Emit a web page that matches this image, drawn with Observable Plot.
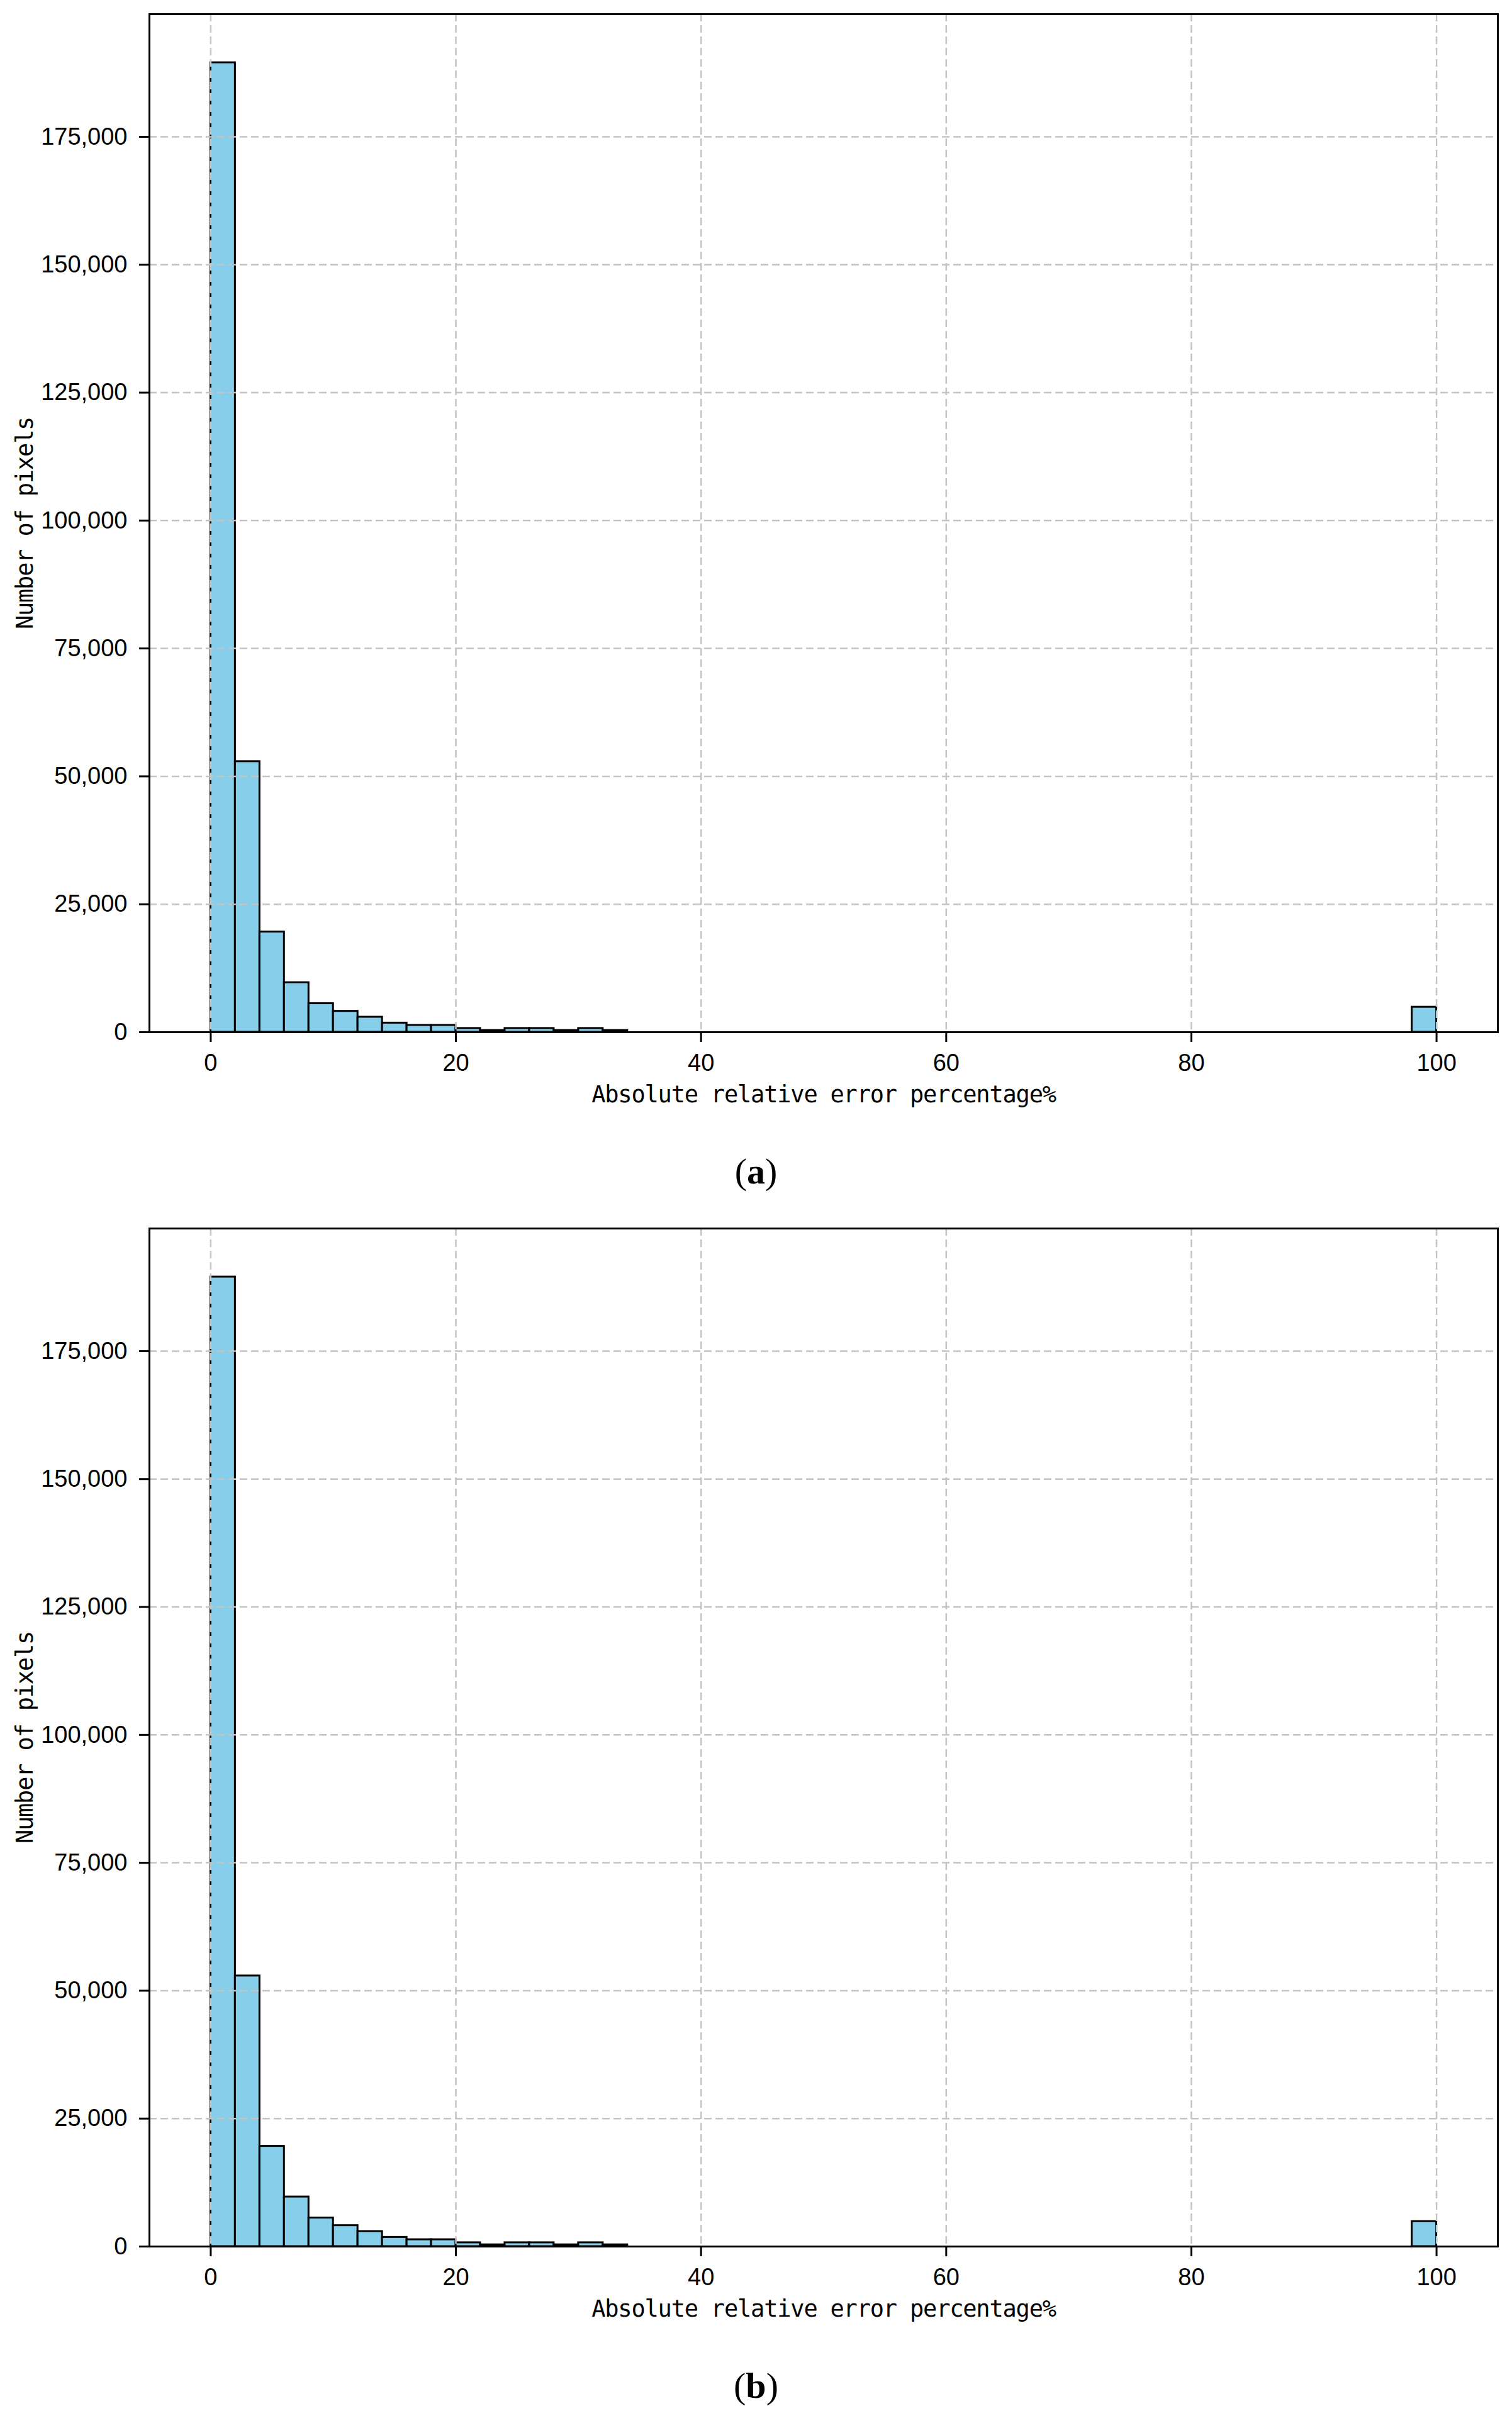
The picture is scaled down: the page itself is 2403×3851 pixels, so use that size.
<!DOCTYPE html>
<html>
<head>
<meta charset="utf-8">
<script src="https://cdn.jsdelivr.net/npm/d3@7"></script>
<script src="https://cdn.jsdelivr.net/npm/@observablehq/plot@0.6"></script>
<style>
html, body { margin: 0; padding: 0; background: #fff; }
#page { position: relative; width: 2403px; height: 3851px; background: #fff; overflow: hidden; }
.panel { position: absolute; left: 0; }
.cap { position: absolute; left: 0; width: 2403px; text-align: center;
       font-family: "Liberation Serif", "Times New Roman", serif; font-size: 58px; line-height: 58px; color: #000; }
.cap b { font-weight: bold; }
</style>
</head>
<body>
<div id="page"></div>
<script>
// ---- data ----
const binWidth = 2;
const binStart = [0,2,4,6,8,10,12,14,16,18,20,22,24,26,28,30,32,34,36,38,40,42,44,46,48,
                  50,52,54,56,58,60,62,64,66,68,70,72,74,76,78,80,82,84,86,88,90,92,94,96,98];
const countsA = [189500, 52900, 19600, 9700, 5600, 4100, 2950, 1800, 1350, 1350,
                 750, 350, 750, 750, 350, 750, 350, 0, 0, 0,
                 0, 0, 0, 0, 0, 0, 0, 0, 0, 0,
                 0, 0, 0, 0, 0, 0, 0, 0, 0, 0,
                 0, 0, 0, 0, 0, 0, 0, 0, 0, 4900];
const countsB = [189500, 52900, 19600, 9700, 5600, 4100, 2950, 1800, 1350, 1350,
                 750, 350, 750, 750, 350, 750, 350, 0, 0, 0,
                 0, 0, 0, 0, 0, 0, 0, 0, 0, 0,
                 0, 0, 0, 0, 0, 0, 0, 0, 0, 0,
                 0, 0, 0, 0, 0, 0, 0, 0, 0, 4900];
const xTicks = [0, 20, 40, 60, 80, 100];
const yTicks = [0, 25000, 50000, 75000, 100000, 125000, 150000, 175000];
const xLabel = "Absolute relative error percentage%";
const yLabel = "Number of pixels";
const panelLetters = ["a", "b"];

// ---- drawing ----
const PANEL_H = 1790, PANEL_STEP = 1930;
const tickFont = "'Liberation Sans', Arial, sans-serif";
const monoFont = "'DejaVu Sans Mono', 'Liberation Mono', monospace";
const gridStyle = {stroke: "#c4c4c4", strokeOpacity: 1, strokeWidth: 2.5, strokeDasharray: "12,6"};

function makePanel(counts) {
  const data = binStart.map((x0, i) => ({x0, x1: x0 + binWidth, count: counts[i]}))
                       .filter(d => d.count > 0);
  const ymax = d3.max(counts) * 1.05;
  const plot = Plot.plot({
    width: 2403,
    height: PANEL_H,
    marginTop: 22, marginBottom: 150, marginLeft: 237, marginRight: 23,
    x: {domain: [-5, 105]},
    y: {domain: [0, ymax]},
    style: {background: "transparent", overflow: "visible"},
    marks: [
      Plot.rectY(data, {x1: "x0", x2: "x1", y: "count", fill: "#87CEEB", stroke: "#000", strokeWidth: 3, inset: 0}),
      Plot.gridX(xTicks, gridStyle),
      Plot.gridY(yTicks, gridStyle),
      Plot.axisX(xTicks, {tickSize: 16, tickPadding: 19, strokeWidth: 3, fontSize: 38, fontFamily: tickFont, label: null}),
      Plot.axisY(yTicks, {tickSize: 16, tickPadding: 19, strokeWidth: 3, fontSize: 38, fontFamily: tickFont,
                          tickFormat: d3.format(","), label: null}),
      Plot.frame({stroke: "#000", strokeWidth: 3}),
      Plot.text([xLabel], {text: d => d, frameAnchor: "bottom", textAnchor: "middle", dy: 111, fontSize: 37, fontFamily: monoFont}),
      Plot.text([yLabel], {text: d => d, frameAnchor: "left", textAnchor: "middle", rotate: -90, dx: -197, fontSize: 37, fontFamily: monoFont})
    ]
  });
  d3.select(plot).selectAll("text").filter(function() {
    const t = this.textContent; return t === xLabel || t === yLabel;
  }).style("letter-spacing", "-1.2px");
  return plot;
}

const page = document.getElementById("page");
[countsA, countsB].forEach((counts, i) => {
  const wrap = document.createElement("div");
  wrap.className = "panel";
  wrap.style.top = (i * PANEL_STEP) + "px";
  wrap.appendChild(makePanel(counts));
  page.appendChild(wrap);
  const cap = document.createElement("div");
  cap.className = "cap";
  cap.style.top = (1833 + i * PANEL_STEP) + "px";
  cap.innerHTML = "(<b>" + panelLetters[i] + "</b>)";
  page.appendChild(cap);
});
</script>
</body>
</html>
